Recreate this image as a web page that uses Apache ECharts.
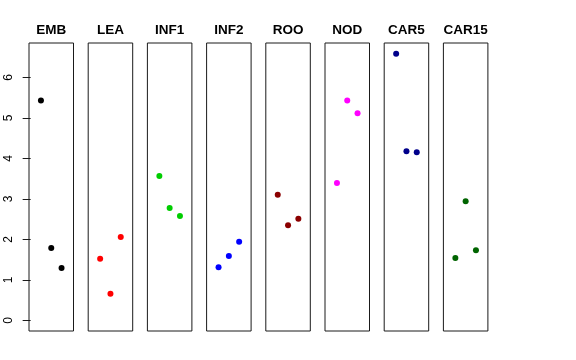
<!DOCTYPE html>
<html>
<head>
<meta charset="utf-8">
<script src="https://cdn.jsdelivr.net/npm/echarts@6/dist/echarts.min.js"></script>
<style>html,body{margin:0;padding:0;background:#fff}#c{width:576px;height:360px}</style>
</head>
<body>
<div id="c"></div>
<script>
const panelNames = ['EMB','LEA','INF1','INF2','ROO','NOD','CAR5','CAR15'];
const xPositions = [1, 2, 3];
const EMB = [5.43, 1.785, 1.29];
const LEA = [1.52, 0.657, 2.056];
const INF1 = [3.563, 2.773, 2.575];
const INF2 = [1.309, 1.588, 1.941];
const ROO = [3.101, 2.346, 2.509];
const NOD = [3.39, 5.43, 5.11];
const CAR5 = [6.583, 4.173, 4.148];
const CAR15 = [1.538, 2.938, 1.728];
const yTicks = [0, 1, 2, 3, 4, 5, 6];
const panelValues = [EMB, LEA, INF1, INF2, ROO, NOD, CAR5, CAR15];
const panelColors = ['#000000','#FF0000','#00CD00','#0000FF','#8B0000','#FF00FF','#00008B','#006400'];

const chart = echarts.init(document.getElementById('c'));
const L0 = 29, STEP = 59.2, W = 44.5, TOP = 43, H = 288;
const grids = [], xAxes = [], yAxes = [], series = [];
panelNames.forEach((name, i) => {
  const left = L0 + i * STEP;
  grids.push({left: left, top: TOP, width: W, height: H, show: true, borderColor: '#1a1a1a', borderWidth: 1, backgroundColor: 'transparent'});
  xAxes.push({gridIndex: i, type: 'value', min: -0.16, max: 4.16, show: false});
  const ya = {gridIndex: i, type: 'value', min: -0.264, max: 6.847, splitLine: {show: false}, axisLine: {show: false}};
  if (i === 0) {
    ya.axisTick = {show: true, length: 8, customValues: yTicks, lineStyle: {color: '#1a1a1a', width: 1}};
    ya.axisLabel = {show: true, customValues: yTicks, rotate: 90, margin: 14, fontSize: 12, color: '#000', fontFamily: 'Liberation Sans, Arial, sans-serif'};
  } else {
    ya.show = false;
  }
  yAxes.push(ya);
  series.push({
    type: 'scatter', xAxisIndex: i, yAxisIndex: i, symbol: 'circle', symbolSize: 6,
    itemStyle: {color: panelColors[i], opacity: 1},
    data: xPositions.map((x, k) => [x, panelValues[i][k]]),
    emphasis: {disabled: true}
  });
});
const gfx = panelNames.map((name, i) => ({
  type: 'text', x: L0 + i * STEP + W / 2, y: 30,
  style: {text: name, fill: '#000', font: 'bold 13.5px "Liberation Sans", Arial, sans-serif', textAlign: 'center', textVerticalAlign: 'middle'}
}));
chart.setOption({
  animation: false,
  backgroundColor: '#fff',
  grid: grids, xAxis: xAxes, yAxis: yAxes, series: series,
  graphic: gfx
});
</script>
</body>
</html>
